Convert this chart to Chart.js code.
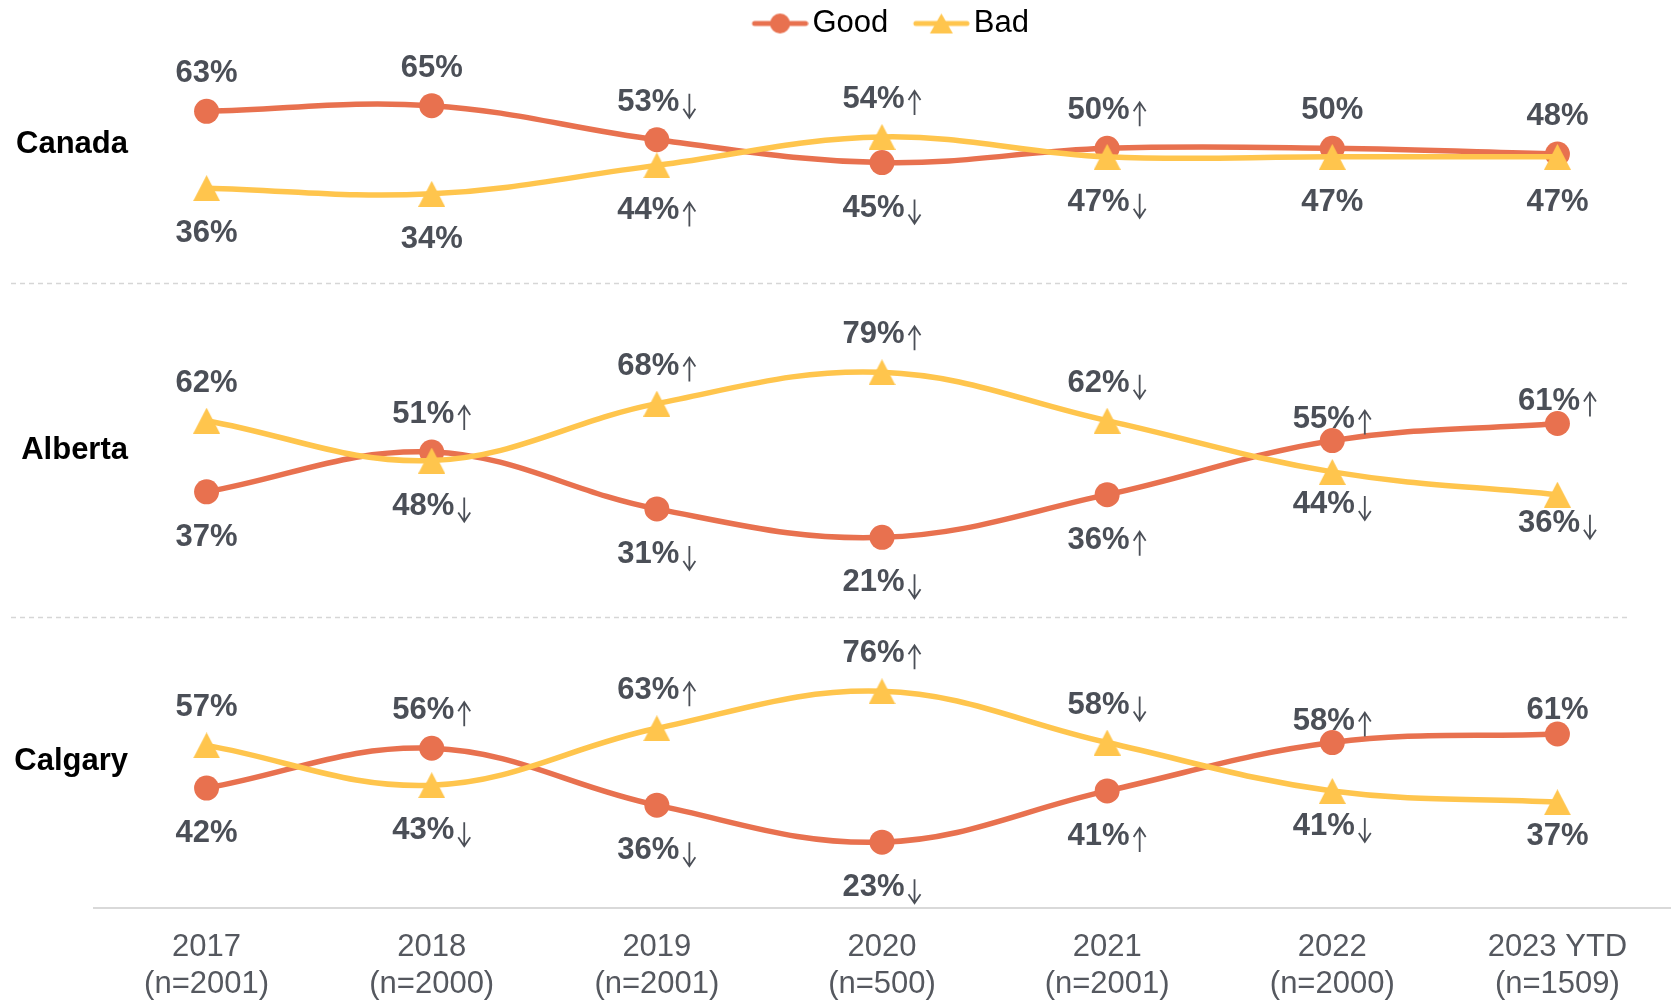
<!DOCTYPE html>
<html>
<head>
<meta charset="utf-8">
<title>Good / Bad by region</title>
<script src="https://cdn.jsdelivr.net/npm/chart.js@4.4.0/dist/chart.umd.min.js"></script>
<style>
  html, body { margin: 0; padding: 0; background: #fff; }
  #wrap { width: 1671px; height: 1003px; position: relative; }
</style>
</head>
<body>
<div id="wrap"><canvas id="myChart"></canvas></div>
<script>
// --- data ---
const years = [
  ['2017', '(n=2001)'], ['2018', '(n=2000)'], ['2019', '(n=2001)'], ['2020', '(n=500)'],
  ['2021', '(n=2001)'], ['2022', '(n=2000)'], ['2023 YTD', '(n=1509)']
];
const regionNames = ['Canada', 'Alberta', 'Calgary'];

const canadaGood = [63, 65, 53, 45, 50, 50, 48];
const canadaBad  = [36, 34, 44, 54, 47, 47, 47];
const canadaGoodSig = ['', '', '↓', '↓', '↑', '', ''];
const canadaBadSig  = ['', '', '↑', '↑', '↓', '', ''];

const albertaGood = [37, 51, 31, 21, 36, 55, 61];
const albertaBad  = [62, 48, 68, 79, 62, 44, 36];
const albertaGoodSig = ['', '↑', '↓', '↓', '↑', '↑', '↑'];
const albertaBadSig  = ['', '↓', '↑', '↑', '↓', '↓', '↓'];

const calgaryGood = [42, 56, 36, 23, 41, 58, 61];
const calgaryBad  = [57, 43, 63, 76, 58, 41, 37];
const calgaryGoodSig = ['', '↑', '↓', '↓', '↑', '↑', ''];
const calgaryBadSig  = ['', '↓', '↑', '↑', '↓', '↓', ''];

// axis windows for each panel (min, max)
const canadaRange  = [2.5, 84.9];
const albertaRange = [-7, 110.2];
const calgaryRange = [0, 102.1];

// a few labels sit closer to their marker in the original (px, toward the marker)
const labelPull = {
    yCanada:  { good: [0, 0, 0, 0, 0, 0, 0], bad: [0, 0, 0, 0, 0, 0, 0] },
    yAlberta: { good: [0, 0, 0, 0, 0, 16, 15], bad: [0, 0, 0, 0, 0, 13, 17] },
    yCalgary: { good: [0, 0, 0, 0, 0, 16, 14], bad: [0, 0, 0, 0, 0, 10, 11] }
};

const goodColor = '#e8714f';
const badColor = '#ffc54d';
const textGray = '#4b4f57';
const fontFamily = "'Liberation Sans', Arial, sans-serif";

Chart.defaults.font.family = fontFamily;

// triangle marker drawn centred on its box (like the original)
function makeTriangle(w, h, color) {
    const c = document.createElement('canvas');
    c.width = w; c.height = h;
    const g = c.getContext('2d');
    g.fillStyle = color;
    g.beginPath();
    g.moveTo(w / 2, 0);
    g.lineTo(w, h);
    g.lineTo(0, h);
    g.closePath();
    g.fill();
    return c;
}

// legend symbol: short line with the marker in the middle
function makeLegendIcon(color, marker) {
    const w = 85, h = 30, seg = 57;
    const c = document.createElement('canvas');
    c.width = w; c.height = h;
    const g = c.getContext('2d');
    g.strokeStyle = color;
    g.lineWidth = 5;
    g.lineCap = 'round';
    g.beginPath();
    g.moveTo(w - seg + 3, h / 2);
    g.lineTo(w - 3, h / 2);
    g.stroke();
    const cx = w - seg / 2;
    g.fillStyle = color;
    g.beginPath();
    if (marker === 'circle') {
        g.arc(cx, h / 2, 10, 0, Math.PI * 2);
    } else {
        g.moveTo(cx, h / 2 - 10);
        g.lineTo(cx + 11.5, h / 2 + 10);
        g.lineTo(cx - 11.5, h / 2 + 10);
        g.closePath();
    }
    g.fill();
    return c;
}

// thin significance arrow next to a value label
function drawArrow(ctx, x, baseline, dir) {
    const top = baseline - 17, bottom = baseline + 7;
    ctx.save();
    ctx.strokeStyle = textGray;
    ctx.lineWidth = 1.8;
    ctx.beginPath();
    ctx.moveTo(x, top);
    ctx.lineTo(x, bottom);
    if (dir === '↑') {
        ctx.moveTo(x - 6, top + 9);
        ctx.lineTo(x, top);
        ctx.lineTo(x + 6, top + 9);
    } else {
        ctx.moveTo(x - 6, bottom - 9);
        ctx.lineTo(x, bottom);
        ctx.lineTo(x + 6, bottom - 9);
    }
    ctx.stroke();
    ctx.restore();
}

const badMarker = makeTriangle(27, 26, badColor);

const panels = [
    { name: regionNames[0], axis: 'yCanada', good: canadaGood, bad: canadaBad, goodSig: canadaGoodSig, badSig: canadaBadSig },
    { name: regionNames[1], axis: 'yAlberta', good: albertaGood, bad: albertaBad, goodSig: albertaGoodSig, badSig: albertaBadSig },
    { name: regionNames[2], axis: 'yCalgary', good: calgaryGood, bad: calgaryBad, goodSig: calgaryGoodSig, badSig: calgaryBadSig }
];

const datasets = [];
panels.forEach((p) => {
    const gi = datasets.length;
    datasets.push({
        label: 'Good',
        data: p.good,
        yAxisID: p.axis,
        borderColor: goodColor,
        backgroundColor: goodColor,
        borderWidth: 5.5,
        pointStyle: 'circle',
        pointRadius: 12.5,
        pointBorderWidth: 0,
        tension: 0.38,
        order: 1,
        sig: p.goodSig,
        pull: labelPull[p.axis].good,
        partner: gi + 1
    });
    datasets.push({
        label: 'Bad',
        data: p.bad,
        yAxisID: p.axis,
        borderColor: badColor,
        backgroundColor: badColor,
        borderWidth: 5.5,
        pointStyle: badMarker,
        pointRadius: 13,
        pointBorderWidth: 0,
        tension: 0.38,
        order: 0,
        sig: p.badSig,
        pull: labelPull[p.axis].bad,
        partner: gi
    });
});

// dashed separators between the panels
const separatorPlugin = {
    id: 'separators',
    beforeDatasetsDraw(chart) {
        const ctx = chart.ctx;
        ctx.save();
        ctx.strokeStyle = '#d6d6d6';
        ctx.lineWidth = 1.5;
        ctx.setLineDash([5, 4]);
        ['yAlberta', 'yCalgary'].forEach((id) => {
            const y = Math.round(chart.scales[id].top) + 0.5;
            ctx.beginPath();
            ctx.moveTo(11, y);
            ctx.lineTo(chart.chartArea.right - 43, y);
            ctx.stroke();
        });
        ctx.restore();
    }
};

// region names on the left
const regionLabelPlugin = {
    id: 'regionLabels',
    afterDraw(chart) {
        const ctx = chart.ctx;
        ctx.save();
        ctx.font = 'bold 31px ' + fontFamily;
        ctx.fillStyle = '#000';
        ctx.textAlign = 'right';
        ctx.textBaseline = 'middle';
        panels.forEach((p) => {
            const s = chart.scales[p.axis];
            ctx.fillText(p.name, chart.chartArea.left + 34, s.getPixelForValue(51.5));
        });
        ctx.restore();
    }
};

// value labels: the higher series goes above, the lower below
const valueLabelPlugin = {
    id: 'valueLabels',
    afterDatasetsDraw(chart) {
        const ctx = chart.ctx;
        ctx.save();
        ctx.fillStyle = textGray;
        ctx.textBaseline = 'alphabetic';
        ctx.textAlign = 'left';
        ctx.font = 'bold 31px ' + fontFamily;
        chart.data.datasets.forEach((ds, i) => {
            const meta = chart.getDatasetMeta(i);
            const other = chart.data.datasets[ds.partner];
            meta.data.forEach((pt, j) => {
                const v = ds.data[j];
                const above = v > other.data[j];
                const num = v + '%';
                const arrow = ds.sig[j];
                const wNum = ctx.measureText(num).width;
                const wArr = arrow ? 17 : 0;
                const x0 = pt.x - (wNum + wArr) / 2;
                const pull = ds.pull[j];
                const y = above ? pt.y - 29 + pull : pt.y + 54 - pull;
                ctx.fillText(num, x0, y);
                if (arrow) {
                    drawArrow(ctx, x0 + wNum + 10, y, arrow);
                }
            });
        });
        ctx.restore();
    }
};

function yAxis(range) {
    return {
        type: 'linear',
        display: false,
        position: 'right',
        stack: 'panels',
        stackWeight: range[1] - range[0],
        min: range[0],
        max: range[1],
        grid: { display: false }
    };
}

const ctx = document.getElementById('myChart').getContext('2d');
const myChart = new Chart(ctx, {
    type: 'line',
    data: {
        labels: years,
        datasets: datasets
    },
    options: {
        responsive: true,
        maintainAspectRatio: false,
        animation: false,
        layout: { autoPadding: false, padding: { left: 94, right: 1, top: 0, bottom: -21 } },
        plugins: {
            legend: {
                display: true,
                position: 'top',
                labels: {
                    usePointStyle: true,
                    pointStyleWidth: 62,
                    padding: 8,
                    color: textGray,
                    font: { size: 31 },
                    generateLabels: () => [
                        { text: 'Good', pointStyle: makeLegendIcon(goodColor, 'circle'), fillStyle: goodColor, strokeStyle: goodColor, lineWidth: 0, hidden: false, datasetIndex: 0 },
                        { text: 'Bad', pointStyle: makeLegendIcon(badColor, 'triangle'), fillStyle: badColor, strokeStyle: badColor, lineWidth: 0, hidden: false, datasetIndex: 1 }
                    ]
                }
            },
            tooltip: { enabled: false }
        },
        scales: {
            x: {
                offset: true,
                grid: { display: false, drawTicks: false },
                border: { display: true, color: '#d9d9d9', width: 2 },
                ticks: {
                    color: '#55585f',
                    font: { size: 31 },
                    padding: 21,
                    maxRotation: 0,
                    autoSkip: false
                }
            },
            yCanada: yAxis(canadaRange),
            yAlberta: yAxis(albertaRange),
            yCalgary: yAxis(calgaryRange)
        }
    },
    plugins: [separatorPlugin, regionLabelPlugin, valueLabelPlugin]
});
</script>
</body>
</html>
